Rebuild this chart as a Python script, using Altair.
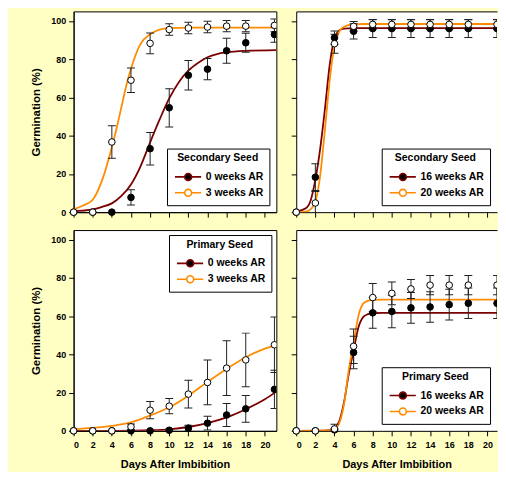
import altair as alt
import pandas as pd

# ---------------- data ----------------
days = [0, 2, 4, 6, 8, 10, 12, 14, 16, 18, 21]

# Panel A: Secondary seed, 0 / 3 weeks AR
sec_names_a = ["0 weeks AR", "3 weeks AR"]
sec_0wk = [0, 0, 0, 7.7, 33.2, 54.6, 71.6, 74.8, 84.4, 88.6, 92.9]
sec_0wk_err = [0, 0, 0, 4, 8.5, 10, 7.7, 5.6, 6.5, 5, 4]
sec_3wk = [0, 0, 36.7, 69, 88.3, 95.5, 96.3, 96.8, 97.3, 97.3, 97.7]
sec_3wk_err = [0, 0, 8.5, 6.4, 5.4, 3, 3, 3, 3, 3, 3.3]
fit_sec_0wk_x = [0, 2, 3, 4, 5, 6, 7, 8, 9, 10, 11, 12, 13, 14, 15, 16, 18, 21.2]
fit_sec_0wk_y = [0.5, 1.5, 2.8, 4.6, 8.5, 14.5, 24, 36.5, 48.5, 59.5, 68, 74, 78, 81, 82.7, 83.6, 84.4, 84.8]
fit_sec_3wk_x = [0, 1, 2, 3, 4, 4.5, 5, 5.5, 6, 7, 8, 9, 10, 12, 21.2]
fit_sec_3wk_y = [1.5, 3.5, 6.5, 17, 34, 44, 55, 66, 75, 88, 93, 95.5, 96.2, 96.5, 96.5]

# Panel B: Secondary seed, 16 / 20 weeks AR
sec_names_b = ["16 weeks AR", "20 weeks AR"]
sec_16wk = [0, 18.3, 91.2, 94.6, 96.0, 96.0, 96.0, 96.0, 96.0, 96.0, 96.0]
sec_16wk_err = [0, 7, 3.5, 4, 4.6, 4.6, 4.6, 4.6, 4.6, 4.6, 4.6]
sec_20wk = [0, 4.8, 88.1, 97.2, 98.2, 98.2, 98.2, 98.2, 98.2, 98.2, 98.2]
sec_20wk_err = [0, 6, 5, 2.5, 2.5, 2.5, 2.5, 2.5, 2.5, 2.5, 2.5]
fit_sec_16wk_x = [0, 1, 1.5, 2, 2.5, 3, 3.5, 4, 4.5, 5, 6, 21.2]
fit_sec_16wk_y = [0.3, 2, 6, 17, 33, 54, 77, 91, 95, 96, 96.3, 96.3]
fit_sec_20wk_x = [0, 1, 1.5, 2, 2.5, 3, 3.5, 4, 4.5, 5, 6, 7, 21.2]
fit_sec_20wk_y = [0, 0.3, 1.5, 5.5, 19, 43, 69, 87, 94.5, 97, 98.2, 98.4, 98.4]

# Panel C: Primary seed, 0 / 3 weeks AR
pri_names_c = ["0 weeks AR", "3 weeks AR"]
pri_0wk = [0, 0, 0, 0, 0, 0.3, 1.4, 4, 8.3, 11.5, 21.7]
pri_0wk_err = [0, 0, 0, 0, 0, 0.5, 1.5, 3.6, 6, 7, 10]
pri_3wk = [0, 0, 0, 2.1, 10.8, 12.9, 19.2, 25.3, 32.8, 37.1, 45]
pri_3wk_err = [0, 0, 0, 1.5, 4.5, 4, 7.3, 11.7, 14.3, 14, 14.5]
fit_pri_0wk_x = [0, 4, 6, 8, 10, 12, 14, 16, 18, 20, 21.2]
fit_pri_0wk_y = [0, 0, 0.1, 0.3, 0.8, 2, 4, 7, 11.3, 16.5, 20.5]
fit_pri_3wk_x = [0, 2, 4, 6, 8, 10, 12, 14, 16, 18, 20, 21.2]
fit_pri_3wk_y = [0.8, 1.5, 2.6, 4.4, 8, 12.3, 18.4, 25.6, 32.4, 38.5, 43, 45]

# Panel D: Primary seed, 16 / 20 weeks AR
pri_names_d = ["16 weeks AR", "20 weeks AR"]
pri_16wk = [0, 0, 0.5, 41, 61.7, 62.4, 64.3, 64.8, 66, 66.7, 66.7]
pri_16wk_err = [0, 0, 0.5, 8.5, 8, 8.5, 8, 8, 8, 8, 8]
pri_20wk = [0, 0, 1, 44.2, 69.7, 71.9, 74.2, 76.2, 76.2, 76.2, 76.2]
pri_20wk_err = [0, 0, 2.5, 9, 7.4, 6, 5, 5, 5, 5, 5]
fit_pri_16wk_x = [0, 3, 4, 4.5, 5, 5.5, 6, 6.5, 7, 7.5, 8, 9, 21.2]
fit_pri_16wk_y = [0, 0.1, 1.5, 5, 15, 30, 42, 54, 59.5, 61, 61.5, 61.7, 61.7]
fit_pri_20wk_x = [0, 3, 4, 4.5, 5, 5.5, 6, 6.5, 7, 7.5, 8, 9, 21.2]
fit_pri_20wk_y = [0, 0.1, 1, 4, 14, 32, 46, 60, 66.5, 68, 68.5, 68.6, 68.6]

x_ticks = [0, 2, 4, 6, 8, 10, 12, 14, 16, 18, 20]
y_ticks = [0, 20, 40, 60, 80, 100]

# ---------------- styling ----------------
FONT = "Liberation Sans"
MAROON = "#7A0000"
ORANGE = "#FF8C00"
BG = "#FFFFC4"
BAR = "#222222"
YMAX = 105
PH = 202
# left column: full frame; right column: cut off at the right edge of the picture
PW_LEFT, XMAX_LEFT = 204, 21.2
PW_RIGHT, XMAX_RIGHT = 202, 21.0
SYMBOL = ("M-0.67,0L0.97,0M2.13,0L3.72,0"
          "M0.97,0A0.58,0.58,0,1,1,2.13,0A0.58,0.58,0,1,1,0.97,0Z")


def make_panel(title, names, vals, errs, fits, orient, offset, show_x, show_y,
               width, xmax):
    prow = []
    for name, v_list, e_list in zip(names, vals, errs):
        for d, v, e in zip(days, v_list, e_list):
            prow.append({"series": name, "day": d, "pct": v,
                         "lo": v - e, "hi": v + e, "err": e})
    pdf = pd.DataFrame(prow)
    edf = pdf[pdf["err"] > 0]
    inside = pdf[pdf["day"] + 0.4 <= xmax]
    edge = pdf[pdf["day"] + 0.4 > xmax]

    crow = []
    for name, (fx, fy) in zip(names, fits):
        for a, b in zip(fx, fy):
            crow.append({"series": name, "day": a, "pct": b})
    cdf = pd.DataFrame(crow)

    cut = not show_y  # right column: open right edge, independent top axis

    xaxis_kw = dict(values=x_ticks, grid=False, tickSize=5, tickColor="black",
                    domainColor="black", labelFont=FONT, labelFontSize=9,
                    labelFontWeight="bold", labelColor="black", labelPadding=5,
                    titleFont=FONT, titleFontSize=11, titleFontWeight="bold",
                    titleColor="black", titlePadding=9)
    if show_x:
        xaxis = alt.Axis(title="Days After Imbibition", **xaxis_kw)
    else:
        xaxis = alt.Axis(title=None, labels=False, **xaxis_kw)
    top_axis = alt.Axis(orient="top", title=None, labels=False, ticks=False,
                        grid=False, domain=True, domainColor="black")
    yaxis_kw = dict(values=y_ticks, grid=False, tickSize=5, tickColor="black",
                    domainColor="black", labelFont=FONT, labelFontSize=9,
                    labelFontWeight="bold", labelColor="black", labelPadding=3,
                    titleFont=FONT, titleFontSize=11.5, titleFontWeight="bold",
                    titleColor="black", titlePadding=9)
    if show_y:
        yaxis = alt.Axis(title="Germination (%)", **yaxis_kw)
    else:
        yaxis = alt.Axis(title=None, labels=False, **yaxis_kw)

    xs = alt.Scale(domain=[0, xmax], nice=False, zero=False)
    ys = alt.Scale(domain=[0, YMAX], nice=False)

    def X(role):
        if not cut or role == "main":
            return alt.X("day:Q", scale=xs, axis=xaxis)
        if role == "top":
            return alt.X("day:Q", scale=xs, axis=top_axis)
        return alt.X("day:Q", scale=xs, axis=None)

    def Y(field):
        return alt.Y(f"{field}:Q", scale=ys, axis=yaxis)

    stroke_scale = alt.Scale(domain=names, range=[MAROON, ORANGE])
    fill_scale = alt.Scale(domain=names, range=["black", "white"])

    legend = alt.Legend(
        title=title, orient=orient, offset=offset, fillColor="white",
        strokeColor="black", padding=5, titleAnchor="middle",
        titleFont=FONT, titleFontSize=10.5, titleFontWeight="bold",
        titleColor="black", titlePadding=6, labelFont=FONT, labelFontSize=10.5,
        labelFontWeight="bold", labelColor="black", labelOffset=20,
        symbolType=SYMBOL, symbolSize=144, symbolStrokeWidth=1.6,
        symbolOpacity=1, rowPadding=2)

    lines = alt.Chart(cdf).mark_line(
        interpolate="monotone", strokeWidth=1.8, clip=True).encode(
        x=X("main"), y=Y("pct"),
        stroke=alt.Stroke("series:N", scale=stroke_scale, legend=legend))

    rules = alt.Chart(edf).mark_rule(color=BAR, strokeWidth=1, clip=True).encode(
        x=X("top"), y=Y("lo"), y2="hi")
    cap_hi = alt.Chart(edf).mark_tick(
        color=BAR, orient="horizontal", size=8, thickness=1, opacity=1,
        clip=True).encode(x=X("none"), y=Y("hi"))
    cap_lo = alt.Chart(edf).mark_tick(
        color=BAR, orient="horizontal", size=8, thickness=1, opacity=1,
        clip=True).encode(x=X("none"), y=Y("lo"))

    layers = [lines, rules, cap_hi, cap_lo]
    pt_kw = dict(size=44, stroke="black", strokeWidth=1, opacity=1)
    layers.append(alt.Chart(inside).mark_circle(**pt_kw).encode(
        x=X("none"), y=Y("pct"),
        fill=alt.Fill("series:N", scale=fill_scale, legend=legend)))
    if len(edge):
        layers.append(alt.Chart(edge).mark_circle(clip=True, **pt_kw).encode(
            x=X("none"), y=Y("pct"),
            fill=alt.Fill("series:N", scale=fill_scale, legend=legend)))

    panel = alt.layer(*layers).properties(width=width, height=PH)
    if cut:
        panel = panel.resolve_axis(x="independent").properties(
            view=alt.ViewBackground(fill="white", stroke="transparent"))
    return panel


pa = make_panel("Secondary Seed", sec_names_a, [sec_0wk, sec_3wk],
                [sec_0wk_err, sec_3wk_err],
                [(fit_sec_0wk_x, fit_sec_0wk_y), (fit_sec_3wk_x, fit_sec_3wk_y)],
                "bottom-right", 7, False, True, PW_LEFT, XMAX_LEFT)
pb = make_panel("Secondary Seed", sec_names_b, [sec_16wk, sec_20wk],
                [sec_16wk_err, sec_20wk_err],
                [(fit_sec_16wk_x, fit_sec_16wk_y), (fit_sec_20wk_x, fit_sec_20wk_y)],
                "bottom-right", 7, False, False, PW_RIGHT, XMAX_RIGHT)
pc = make_panel("Primary Seed", pri_names_c, [pri_0wk, pri_3wk],
                [pri_0wk_err, pri_3wk_err],
                [(fit_pri_0wk_x, fit_pri_0wk_y), (fit_pri_3wk_x, fit_pri_3wk_y)],
                "top-right", 5, True, True, PW_LEFT, XMAX_LEFT)
pd_ = make_panel("Primary Seed", pri_names_d, [pri_16wk, pri_20wk],
                 [pri_16wk_err, pri_20wk_err],
                 [(fit_pri_16wk_x, fit_pri_16wk_y), (fit_pri_20wk_x, fit_pri_20wk_y)],
                 "bottom-right", 7, True, False, PW_RIGHT, XMAX_RIGHT)

chart = alt.concat(pa, pb, pc, pd_, columns=2, spacing={"row": 18, "column": 20},
                   bounds="flush").resolve_scale(
    fill="independent", stroke="independent").resolve_legend(
    fill="independent", stroke="independent").properties(
    padding={"left": 22, "top": 1, "right": 0, "bottom": 0},
    background=BG).configure_view(stroke="black", strokeWidth=1, fill="white")

chart.save("out.html", embed_options={"renderer": "svg", "actions": False})
